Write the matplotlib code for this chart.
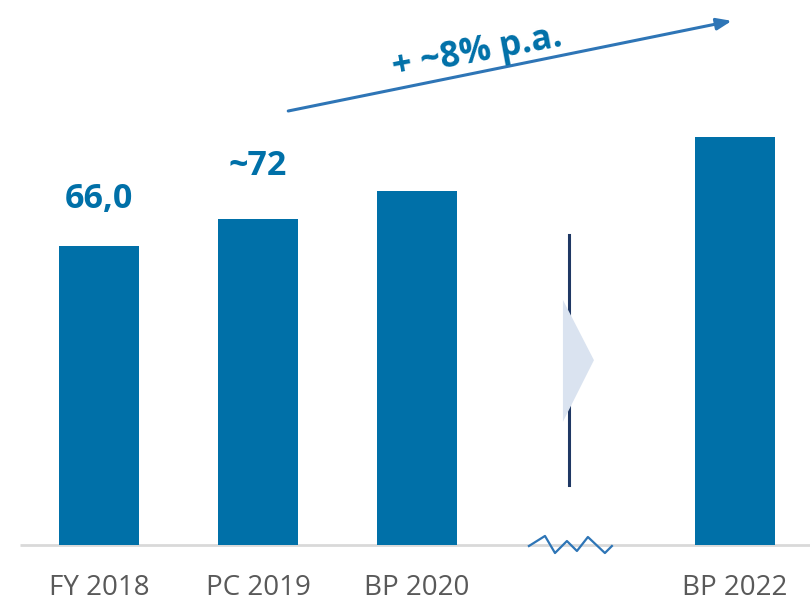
import numpy as np
import matplotlib
matplotlib.use("Agg")
import matplotlib.pyplot as plt
from matplotlib.patches import Polygon

# data
categories = ["FY 2018", "PC 2019", "BP 2020", "", "BP 2022"]
positions = [0, 1, 2, 4]
values = [66.0, 72.0, 78.1, 90.1]
value_labels = ["66,0", "~72"]
growth_label = "+ ~8% p.a."

bar_color = "#0070A8"
arrow_color = "#2E75B6"

fig = plt.figure(figsize=(8.1, 6.03), dpi=100)
ax = fig.add_axes([0, 0, 1, 1])
ax.set_xlim(-0.623, 4.472)
ax.set_ylim(-12.8, 120.3)
ax.axis("off")

ax.bar(positions, values, width=0.503, color=bar_color, zorder=2)

# baseline
ax.plot([-0.497, 4.472], [0, 0], color="#D9D9D9", lw=2, zorder=1, solid_capstyle="butt")

# category labels
for i, lab in enumerate(categories):
    if lab:
        ax.text(i, -9.5, lab, ha="center", va="center", fontsize=20,
                family="Open Sans", color="#595959")

# value labels for the first two bars
offsets = [10.4, 11.7]
for p, v, lab, off in zip(positions, values, value_labels, offsets):
    ax.text(p, v + off, lab, ha="center", va="center", fontsize=24.5,
            family="Open Sans", fontweight="bold", color=bar_color)

# growth arrow
ax.annotate("", xy=(3.98, 115.7), xytext=(1.19, 95.8),
            arrowprops=dict(arrowstyle="-|>,head_length=0.9,head_width=0.35",
                            color=arrow_color, lw=2.2, shrinkA=0, shrinkB=0))
ax.text(2.38, 108.6, growth_label, ha="center", va="center", fontsize=25,
        family="Open Sans", fontweight="bold", color=bar_color, rotation=10.5)

# break marker between BP 2020 and BP 2022
ax.plot([2.956, 2.956], [13.2, 68.4], color="#1F3864", lw=2.2, zorder=2)
tri = Polygon([[2.918, 54.1], [3.113, 40.8], [2.918, 27.2]], closed=True,
              facecolor="#DAE3F0", edgecolor="none", zorder=3)
ax.add_patch(tri)

zx = np.array([-0.296, -0.195, -0.132, -0.057, 0.006, 0.075, 0.182, 0.226]) + 3
zy = [-0.22, 2.0, -1.77, 0.88, -1.32, 1.77, -1.77, -0.22]
ax.plot(zx, zy, color=arrow_color, lw=1.6, zorder=3)

fig.savefig("out.png", dpi=100)
